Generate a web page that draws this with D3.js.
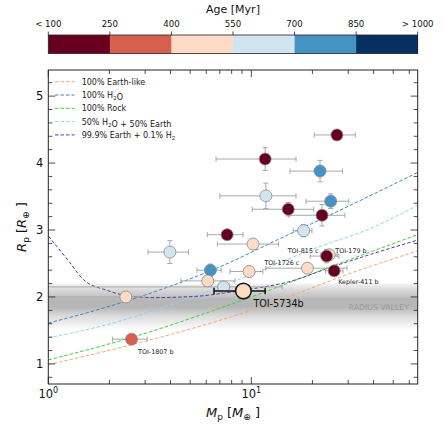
<!DOCTYPE html>
<html><head><meta charset="utf-8">
<script src="https://cdn.jsdelivr.net/npm/d3@7"></script>
<style>body{margin:0;background:#fff} svg{display:block;font-family:"DejaVu Sans",sans-serif}</style>
</head><body><svg id="c" width="444" height="425"></svg>
<script>
// ---------- data ----------
const ageTickLabels = ["< 100","250","400","550","700","850","> 1000"];
const ageColors = ["#67001f","#d6604d","#fddbc7","#d1e5f0","#4393c3","#053061"];

// mass-radius relations [mass (M_earth), radius (R_earth)]
const curveNames = ["100% Earth-like","100% H2O","100% Rock","50% H2O + 50% Earth","99.9% Earth + 0.1% H2"];
const earthLike = [[1,0.99],[2.6,1.29],[10,1.80],[34,2.40],[66,2.69]];
const water100 = [[1,1.61],[1.8,1.82],[2.8,2.0],[7,2.45],[13.8,2.87],[21.7,3.15],[66,3.86]];
const rock100 = [[1,1.06],[2.6,1.40],[9,1.95],[30,2.55],[66,2.93]];
const waterEarth50 = [[1,1.39],[1.8,1.56],[7,2.15],[24.5,2.81],[34.3,2.96],[66,3.37]];
const earthH2 = [[1,2.91],[1.25,2.55],[1.49,2.26],[1.94,2.10],[2.43,2.02],[3.2,1.99],[5.4,2.01],[7,2.05],[10,2.12],[15,2.22],[25,2.45],[40,2.65],[66,2.85]];

// planets
const planetName   = ["","","","","","","","","","","","TOI-815 c","TOI-179 b","Kepler-411 b","TOI-1726 c","","","","","TOI-1807 b"];
const planetMass   = [26.4,11.7,21.8,11.8,24.6,15.2,22.3,7.6,18.1,10.2,3.97,23.5,24.2,25.6,18.9,9.75,6.29,6.1,7.31,2.57];
const planetMassLo = [20.4,6.7,15.5,7.0,18.6,10.1,15.3,6.07,16.1,6.8,3.1,19.5,22.0,23.2,11.8,7.85,5.4,4.5,0.9,2.07];
const planetMassHi = [32.5,16.6,28.1,16.6,30.2,20.3,28.9,9.1,19.9,13.6,4.9,27.0,26.5,28.3,29.6,11.4,7.1,8.3,14.2,3.07];
const planetRadius = [4.42,4.06,3.88,3.51,3.43,3.31,3.22,2.93,2.99,2.79,2.67,2.61,2.63,2.39,2.43,2.38,2.40,2.24,2.15,1.37];
const planetRadErr = [0.06,0.17,0.16,0.19,0.11,0.10,0.16,0.06,0.09,0.08,0.17,0.10,0.08,0.05,0.05,0.08,0.09,0.05,0.07,0.05];
const planetAgeCls = [0,0,4,3,4,0,0,0,3,2,3,0,2,0,2,2,4,2,3,1];
// extra peach point with wide mass errors
const extraMass = [2.41], extraMassLo = [0.9], extraMassHi = [3.0], extraRadius = [2.0], extraRadErr = [0.04], extraAgeCls = [2];

// target
const targetName = "TOI-5734b";
const targetMass = 9.14, targetMassLo = 6.55, targetMassHi = 11.7, targetRadius = 2.09, targetRadErr = 0.06, targetAgeCls = 2;

const radiusValley = [1.5, 2.2];
const xMajor = [1,10];
const xMinor = [2,3,4,5,6,7,8,9,20,30,40,50,60];
const yMajor = [1,2,3,4,5];

// ---------- layout ----------
const svg = d3.select("#c");
const L = 48.3, R = 417.7, T = 70, B = 384;
const x = d3.scaleLog().domain([1,66]).range([L,R]);
const y = d3.scaleLinear().domain([0.7,5.39]).range([B,T]);

// colorbar
const cbX = d3.scaleLinear().domain([0,6]).range([L,R]);
const cb = svg.append("g");
cb.selectAll("rect").data(ageColors).join("rect")
  .attr("x",(d,i)=>cbX(i)).attr("width",(d,i)=>cbX(i+1)-cbX(i)+0.3)
  .attr("y",35).attr("height",18.5).attr("fill",d=>d);
cb.append("rect").attr("x",L).attr("y",35).attr("width",R-L).attr("height",18.5)
  .attr("fill","none").attr("stroke","#222").attr("stroke-width",0.8);
cb.selectAll("line").data(ageTickLabels).join("line")
  .attr("x1",(d,i)=>cbX(i)).attr("x2",(d,i)=>cbX(i)).attr("y1",31.5).attr("y2",35)
  .attr("stroke","#222").attr("stroke-width",0.8);
cb.selectAll("text.t").data(ageTickLabels).join("text").attr("class","t")
  .attr("x",(d,i)=>cbX(i)).attr("y",27).attr("text-anchor","middle")
  .attr("font-size",8.6).attr("fill","#111").text(d=>d);
cb.append("text").attr("x",(L+R)/2).attr("y",13).attr("text-anchor","middle")
  .attr("font-size",11).attr("fill","#111").text("Age [Myr]");

// clip
svg.append("defs").append("clipPath").attr("id","clip")
  .append("rect").attr("x",L).attr("y",T).attr("width",R-L).attr("height",B-T);

// radius valley gradient
const grad = svg.select("defs").append("linearGradient").attr("id","rv")
  .attr("x1",0).attr("x2",0).attr("y1",0).attr("y2",1);
[[0,0.10],[0.12,0.30],[0.35,0.62],[0.5,0.62],[0.7,0.30],[1,0]].forEach(([o,a])=>
  grad.append("stop").attr("offset",o).attr("stop-color","#8a8a8a").attr("stop-opacity",a));
const plot = svg.append("g").attr("clip-path","url(#clip)");
plot.append("rect").attr("x",L).attr("width",R-L)
  .attr("y",y(radiusValley[1])).attr("height",y(radiusValley[0])-y(radiusValley[1]))
  .attr("fill","url(#rv)");
plot.append("text").attr("x",409).attr("y",y(1.80)).attr("text-anchor","end")
  .attr("font-size",7.8).attr("fill","#9a9a9a").text("RADIUS VALLEY");

// curves
const curves = [earthLike, water100, rock100, waterEarth50, earthH2];
const curveColors = ["#f7a872","#3a86c4","#3ccf3c","#8fd0f7","#5b3a9e"];
const line = d3.line().x(d=>x(d[0])).y(d=>y(d[1])).curve(d3.curveMonotoneX);
plot.selectAll("path.curve").data(curves).join("path").attr("class","curve")
  .attr("d",line).attr("fill","none").attr("stroke",(d,i)=>curveColors[i])
  .attr("stroke-width",1).attr("stroke-dasharray","3.5,2");

// error bars + points
const pts = planetMass.map((m,i)=>({m,lo:planetMassLo[i],hi:planetMassHi[i],r:planetRadius[i],re:planetRadErr[i],c:planetAgeCls[i],name:planetName[i]}));
extraMass.forEach((m,i)=>pts.unshift({m,lo:extraMassLo[i],hi:extraMassHi[i],r:extraRadius[i],re:extraRadErr[i],c:extraAgeCls[i],name:""}));
// draw peach behind dark red overlaps
const order = pts.slice().sort((a,b)=>(a.name==="TOI-179 b"?-1:0)-(b.name==="TOI-179 b"?-1:0));
const eb = plot.append("g").attr("stroke","#a8a8a8").attr("stroke-width",1);
function errbar(g,p,cap){
  g.append("line").attr("x1",x(p.lo)).attr("x2",x(p.hi)).attr("y1",y(p.r)).attr("y2",y(p.r));
  g.append("line").attr("x1",x(p.m)).attr("x2",x(p.m)).attr("y1",y(p.r-p.re)).attr("y2",y(p.r+p.re));
  [p.lo,p.hi].forEach(v=>g.append("line").attr("x1",x(v)).attr("x2",x(v)).attr("y1",y(p.r)-cap).attr("y2",y(p.r)+cap));
  [p.r-p.re,p.r+p.re].forEach(v=>g.append("line").attr("x1",x(p.m)-cap).attr("x2",x(p.m)+cap).attr("y1",y(v)).attr("y2",y(v)));
}
order.forEach(p=>errbar(eb,p,2.6));
plot.append("g").selectAll("circle").data(order).join("circle")
  .attr("cx",d=>x(d.m)).attr("cy",d=>y(d.r)).attr("r",6)
  .attr("fill",d=>ageColors[d.c]).attr("stroke","#8a8a8a").attr("stroke-width",0.8);

// target
const tg = plot.append("g").attr("stroke","#111").attr("stroke-width",1.5);
errbar(tg,{m:targetMass,lo:targetMassLo,hi:targetMassHi,r:targetRadius,re:targetRadErr},3.2);
plot.append("circle").attr("cx",x(targetMass)).attr("cy",y(targetRadius)).attr("r",7.8)
  .attr("fill",ageColors[targetAgeCls]).attr("stroke","#111").attr("stroke-width",1.5);

// labels
const labelOffset = {"TOI-815 c":[-39,-3],"TOI-179 b":[6,-2],"Kepler-411 b":[4,13.5],"TOI-1726 c":[-43,-3],"TOI-1807 b":[6.5,15]};
const lab = svg.append("g").attr("font-size",6.4).attr("fill","#222");
pts.filter(p=>labelOffset[p.name]).forEach(p=>{
  const o = labelOffset[p.name];
  lab.append("text").attr("x",x(p.m)+o[0]).attr("y",y(p.r)+o[1]).text(p.name);
});
svg.append("text").attr("x",x(targetMass)+10).attr("y",y(targetRadius)+16.5)
  .attr("font-size",9.6).attr("fill","#111").text(targetName);

// axes frame
const ax = svg.append("g").attr("stroke","#222");
ax.append("rect").attr("x",L).attr("y",T).attr("width",R-L).attr("height",B-T).attr("fill","none").attr("stroke-width",1);
const yMinor = d3.range(0.8,5.3,0.2).map(v=>+v.toFixed(1)).filter(v=>!yMajor.includes(v));
function tick(x1,y1,x2,y2,w){ax.append("line").attr("x1",x1).attr("y1",y1).attr("x2",x2).attr("y2",y2).attr("stroke-width",w||0.8);}
xMajor.forEach(v=>{tick(x(v),B,x(v),B-7);tick(x(v),T,x(v),T+7);});
xMinor.forEach(v=>{tick(x(v),B,x(v),B-4);tick(x(v),T,x(v),T+4);});
yMajor.forEach(v=>{tick(L,y(v),L+7,y(v));tick(R,y(v),R-7,y(v));});
yMinor.forEach(v=>{tick(L,y(v),L+4,y(v));tick(R,y(v),R-4,y(v));});

// tick labels
const tl = svg.append("g").attr("font-size",11.5).attr("fill","#111");
yMajor.forEach(v=>tl.append("text").attr("x",L-5).attr("y",y(v)+4).attr("text-anchor","end").text(v));
xMajor.forEach(v=>{
  const t = tl.append("text").attr("x",x(v)).attr("y",B+14).attr("text-anchor","middle");
  t.append("tspan").text("10");
  t.append("tspan").attr("dy",-5).attr("font-size",8).text(Math.round(Math.log10(v)));
});

// axis titles
const xt = svg.append("text").attr("x",(L+R)/2).attr("y",417).attr("text-anchor","middle").attr("font-size",13).attr("fill","#111");
xt.append("tspan").attr("font-style","italic").text("M");
xt.append("tspan").attr("font-size",9).attr("dy",3).text("p");
xt.append("tspan").attr("dy",-3).text(" [");
xt.append("tspan").attr("font-style","italic").text("M");
xt.append("tspan").attr("font-size",9).attr("dy",3).text("\u2295");
xt.append("tspan").attr("dy",-3).text(" ]");
const yt = svg.append("text").attr("transform",`translate(26,${(T+B)/2}) rotate(-90)`).attr("text-anchor","middle").attr("font-size",13).attr("fill","#111");
yt.append("tspan").attr("font-style","italic").text("R");
yt.append("tspan").attr("font-size",9).attr("dy",3).text("p");
yt.append("tspan").attr("dy",-3).text(" [");
yt.append("tspan").attr("font-style","italic").text("R");
yt.append("tspan").attr("font-size",9).attr("dy",3).text("\u2295");
yt.append("tspan").attr("dy",-3).text(" ]");

// legend
const lg = svg.append("g").attr("font-size",8).attr("fill","#222");
curveNames.forEach((n,i)=>{
  const yy = 81.7 + i*13.3;
  lg.append("line").attr("x1",55).attr("x2",74.5).attr("y1",yy).attr("y2",yy)
    .attr("stroke",curveColors[i]).attr("stroke-width",1).attr("stroke-dasharray","3.5,2");
  const t = lg.append("text").attr("x",81.7).attr("y",yy+3);
  n.split(/(H2)/).forEach(part=>{
    if(part==="H2"){t.append("tspan").text("H");t.append("tspan").attr("font-size",5.5).attr("dy",2).text("2");t.append("tspan").attr("dy",-2).text("");}
    else if(part) t.append("tspan").text(part);
  });
});
</script></body></html>
